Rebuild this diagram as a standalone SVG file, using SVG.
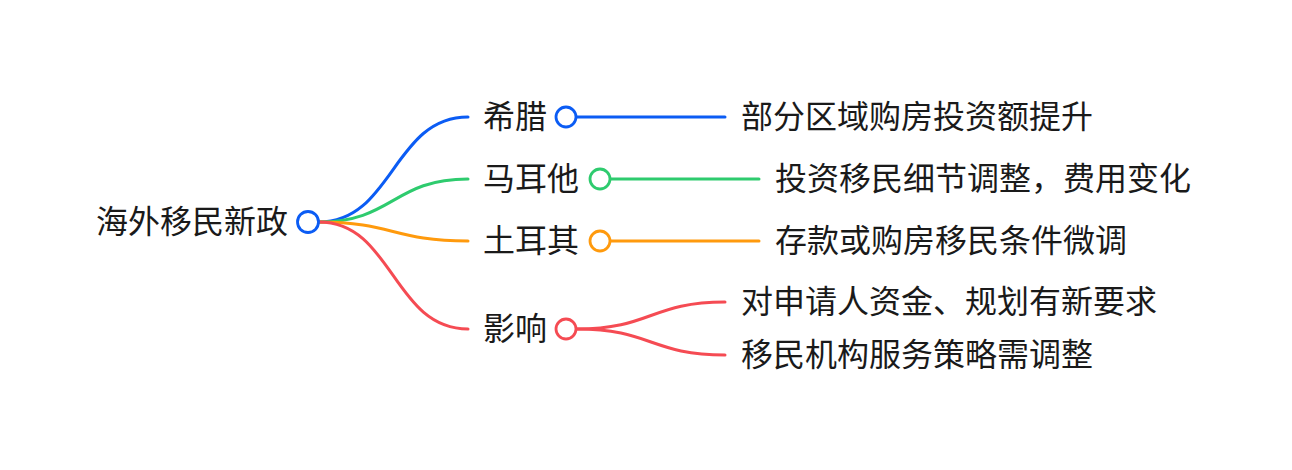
<svg xmlns="http://www.w3.org/2000/svg" width="1292" height="470" viewBox="0 0 1292 470">
<style>
text{font-family:"Noto Sans CJK SC","Noto Sans",sans-serif;font-size:32px;fill:#1a1a1a;}
.c{fill:#fff;stroke-width:2.8;}
.l{fill:none;stroke-width:3;stroke-linecap:round;}
.b{stroke:#0B5CF4;}
.g{stroke:#2ECB6E;}
.o{stroke:#FF9A0D;}
.r{stroke:#F54B53;}
</style>
<rect width="1292" height="470" fill="#fff"/>
<g id="connectors">
<path class="l b" d="M319,222 C393,222 393,117 468,117"/>
<path class="l g" d="M319,222 C393,222 393,179 468,179"/>
<path class="l o" d="M319,222 C393,222 393,241 468,241"/>
<path class="l r" d="M319,222 C393,222 393,329 468,329"/>
<path class="l b" d="M577,117 L725,117"/>
<path class="l g" d="M611,179 L759,179"/>
<path class="l o" d="M611,241 L759,241"/>
<path class="l r" d="M577,329 C651,329 651,302 725,302"/>
<path class="l r" d="M577,329 C651,329 651,355 725,355"/>
</g>
<g id="root">
<text x="288" y="233" text-anchor="end">海外移民新政</text>
<circle class="c b" cx="308" cy="222" r="10.5"/>
</g>
<g id="greece">
<text x="483" y="128">希腊</text>
<circle class="c b" cx="566" cy="117" r="10"/>
</g>
<g id="malta">
<text x="483" y="190">马耳他</text>
<circle class="c g" cx="600" cy="179" r="10"/>
</g>
<g id="turkey">
<text x="483" y="252">土耳其</text>
<circle class="c o" cx="600" cy="241" r="10"/>
</g>
<g id="impact">
<text x="483" y="340">影响</text>
<circle class="c r" cx="566" cy="329" r="10"/>
</g>
<g id="greece-detail">
<text x="741" y="128">部分区域购房投资额提升</text>
</g>
<g id="malta-detail">
<text x="775" y="190">投资移民细节调整，费用变化</text>
</g>
<g id="turkey-detail">
<text x="775" y="252">存款或购房移民条件微调</text>
</g>
<g id="impact-detail-1">
<text x="741" y="313">对申请人资金、规划有新要求</text>
</g>
<g id="impact-detail-2">
<text x="741" y="366">移民机构服务策略需调整</text>
</g>
</svg>
